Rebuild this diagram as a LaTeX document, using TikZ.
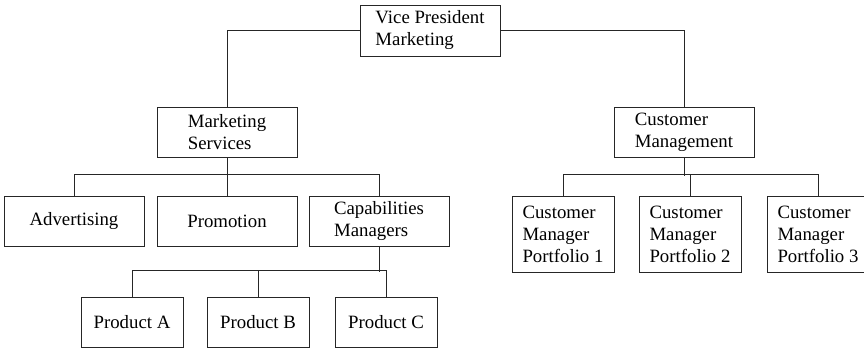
\documentclass[tikz,border=0pt]{standalone}
\usepackage{fontspec}
\setmainfont{Liberation Serif}
\usetikzlibrary{calc}
\usetikzlibrary{arrows.meta}
\tikzset{
  unit/.style={draw=black!85, line width=0.5pt, align=left, inner sep=0pt,
    font=\fontsize{9.4pt}{11pt}\selectfont},
  wide/.style={unit, minimum width=70pt, minimum height=25pt},
  narrow/.style={unit, minimum width=51pt, minimum height=25pt},
  tall/.style={unit, minimum width=51pt, minimum height=38pt},
  link/.style={draw=black!85, line width=0.5pt}
}

\begin{document}
\begin{tikzpicture}[x=0.5pt,y=0.5pt]
	\useasboundingbox (0,0) rectangle (864,-349);

	\node [wide,minimum height=25.5pt] (vp) at (430,-30.5) {Vice President\\Marketing};
	\node [wide] (ms) at (227,-132) {Marketing\\Services};
	\node [wide] (cm) at (684,-132) {Customer\\Management};

	\node [wide] (adv) at (74,-221)  {Advertising};
	\node [wide] (pro) at (227,-221) {Promotion};
	\node [wide] (cap) at (379,-221) {Capabilities\\Managers};

	\node [narrow] (pa) at (132,-322) {Product A};
	\node [narrow] (pb) at (258,-322) {Product B};
	\node [narrow] (pc) at (386,-322) {Product C};

	\node [tall] (cm1) at (563,-234) {Customer\\Manager\\Portfolio 1};
	\node [tall] (cm2) at (690,-234) {Customer\\Manager\\Portfolio 2};
	\node [tall] (cm3) at (818,-234) {Customer\\Manager\\Portfolio 3};

	% top level
	\draw [link] (vp.west) -| (ms.north);
	\draw [link] (vp.east) -| (cm.north);

	% marketing services
	\draw [link] (ms.south) -- (pro.north);
	\draw [link] (adv.north) -- ++(0,21) -| (cap.north);

	% products
	\draw [link] (cap.south) -- ++(0,-25);
	\draw [link] (pa.north) -- ++(0,26) -| (pc.north);
	\draw [link] (pb.north) -- ++(0,26);

	% customer managers
	\draw [link] (cm.south) -- ++(0,-18);
	\draw [link] (cm1.north) -- ++(0,21) -| (cm3.north);
	\draw [link] (cm2.north) -- ++(0,21);
\end{tikzpicture}
\end{document}
